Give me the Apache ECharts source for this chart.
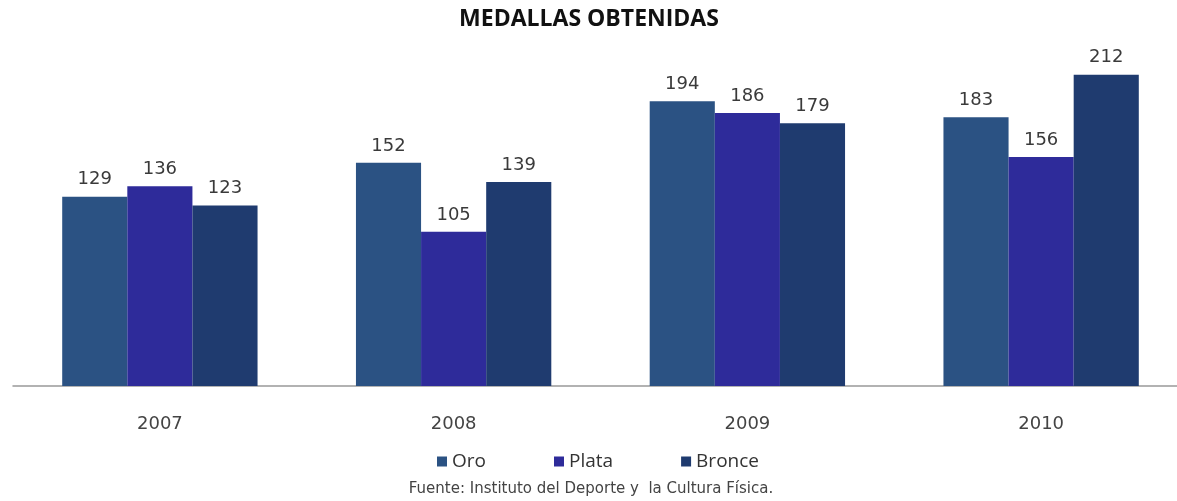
<!DOCTYPE html>
<html><head><meta charset="utf-8">
<script src="https://cdn.jsdelivr.net/npm/echarts@6/dist/echarts.min.js"></script>
<style>html,body{margin:0;padding:0;background:#fff;overflow:hidden}#c{width:1190px;height:501px}</style>
</head><body><div id="c"></div>
<script>
const years = ['2007','2008','2009','2010'];
const oro = [129,152,194,183];
const plata = [136,105,186,156];
const bronce = [123,139,179,212];
const seriesNames = ['Oro','Plata','Bronce'];
const titleText = 'MEDALLAS OBTENIDAS';
const sourceText = 'Fuente: Instituto del Deporte y  la Cultura Física.';
const colors = ['#2b5283','#2e2b9a','#1f3b6f'];
const chart = echarts.init(document.getElementById('c'), null, {renderer:'canvas'});
const lbl = {show:true, position:'top', distance:8, color:'#3a3a3a', fontSize:18, fontFamily:'DejaVu Sans', fontWeight:'normal'};
chart.setOption({
  backgroundColor:'#fff',
  animation:false,
  legend:{top:447, left:432, itemWidth:10, itemHeight:10, itemGap:68, icon:'rect',
    textStyle:{fontSize:19, color:'#333', fontFamily:'Open Sans'}, data:seriesNames},
  graphic:[
    {type:'text', x:589, y:8, style:{text:titleText, textAlign:'center', fontSize:23, fontWeight:'bold', fill:'#111', fontFamily:'Open Sans'}},
    {type:'text', x:591, y:482, style:{text:sourceText, textAlign:'center', fontSize:15, fill:'#444', fontFamily:'DejaVu Sans'}}
  ],
  grid:{left:13, right:2, top:19, bottom:115, containLabel:false},
  xAxis:{type:'category', data:years, axisTick:{show:false},
    axisLine:{lineStyle:{color:'#999', width:1.5}},
    axisLabel:{fontSize:18, color:'#444', margin:29, fontFamily:'DejaVu Sans'}},
  yAxis:{type:'value', min:0, max:250, show:false, splitLine:{show:false}},
  series:[
    {name:seriesNames[0], type:'bar', data:oro, itemStyle:{color:colors[0]}, barGap:'0%', barCategoryGap:'33.5%', label:lbl},
    {name:seriesNames[1], type:'bar', data:plata, itemStyle:{color:colors[1]}, barGap:'0%', barCategoryGap:'33.5%', label:lbl},
    {name:seriesNames[2], type:'bar', data:bronce, itemStyle:{color:colors[2]}, barGap:'0%', barCategoryGap:'33.5%', label:lbl}
  ]
});
</script></body></html>
